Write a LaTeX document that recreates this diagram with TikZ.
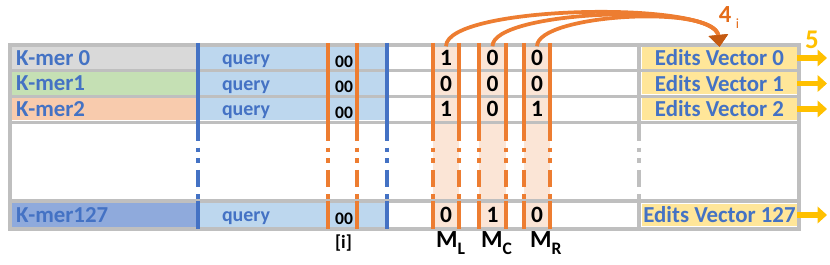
\documentclass[tikz,border=0pt]{standalone}
\usepackage{fontspec}
\setmainfont{Carlito}
\usetikzlibrary{arrows.meta}

\definecolor{kblue}{HTML}{4472C4}
\definecolor{kgray}{HTML}{D9D9D9}
\definecolor{kgreen}{HTML}{C5E0B4}
\definecolor{ksalmon}{HTML}{F8CBAD}
\definecolor{kdark}{HTML}{8FAADC}
\definecolor{qblue}{HTML}{BDD7EE}
\definecolor{eyellow}{HTML}{FFE699}
\definecolor{mshade}{HTML}{FBE5D6}
\definecolor{morange}{HTML}{ED7D31}
\definecolor{steporange}{HTML}{E46C1A}
\definecolor{headorange}{HTML}{C55A11}
\definecolor{gridgray}{HTML}{BFBFBF}
\definecolor{outyellow}{HTML}{FFC000}

\begin{document}
\begin{tikzpicture}[
    x=0.3mm, y=-0.3mm,
    line cap=butt,
    vline/.style={line width=2.6pt},
    gapline/.style={dash pattern=on 15pt off 6pt on 4pt off 5pt on 4pt off 6pt},
    kmerlbl/.style={anchor=west, inner sep=0pt, text=kblue, font=\bfseries\fontsize{19.5}{19.5}\selectfont},
    querylbl/.style={inner sep=0pt, text=kblue, font=\bfseries\fontsize{17}{17}\selectfont},
    idxlbl/.style={inner sep=0pt, font=\bfseries\fontsize{15}{15}\selectfont},
    bit/.style={minimum width=7mm, minimum height=6.9mm, inner sep=0pt, font=\bfseries\fontsize{20}{20}\selectfont},
    evbox/.style={fill=eyellow, minimum width=46.5mm, minimum height=6.6mm, inner sep=0pt, text=kblue, font=\bfseries\fontsize{19.5}{19.5}\selectfont},
    arc/.style={morange, line width=3.2pt, -{Triangle[length=10pt, width=16pt, color=headorange, fill=headorange]}},
    outarrow/.style={outyellow, line width=4.5pt, -{Triangle[length=8pt, width=14pt]}}
]
\useasboundingbox (0,0) rectangle (830,265);

% Tabella
\fill[white] (10,45) rectangle (799,229);
\foreach \ya/\yb/\col in {47/69/kgray, 72/95/kgreen, 98/120/ksalmon, 203/227/kdark}{
    \fill[\col] (12,\ya) rectangle (197,\yb);
    \fill[qblue] (199,\ya) rectangle (387,\yb);
}

% Colonne M
\foreach \xa/\xb in {433/459, 479/506, 524/550}
    \fill[mshade] (\xa,45) rectangle (\xb,229);

% Righe
\foreach \y in {70.5, 96.5, 122.5, 201}
    \draw[gridgray, line width=2.6pt] (10,\y) -- (799,\y);
\draw[gridgray, line width=3.4pt] (10,45) rectangle (799,229);

% Linee verticali
\foreach \x/\col in {198/kblue, 387/kblue, 328/morange, 357/morange,
    433/morange, 459/morange, 479/morange, 506/morange, 524/morange, 550/morange, 639/gridgray}{
    \draw[\col, vline] (\x,43) -- (\x,123);
    \draw[\col, vline, gapline] (\x,123) -- (\x,201);
    \draw[\col, vline] (\x,201) -- (\x,229);
}

% Righe della tabella
\foreach \r/\y/\lab/\a/\b/\c in {
    0/58/K-mer 0/1/0/0,
    1/83.5/K-mer1/0/0/0,
    2/109/K-mer2/1/0/1,
    127/215/K-mer127/0/1/0
}{
    \node[kmerlbl] (kmer\r) at (16,\y) {\lab};
    \node[querylbl] (query\r) at (246,\y+3.5) {query};
    \node[idxlbl] (idx\r) at (344,\y+3.5) {00};
    \node[bit] (bL\r) at (446,\y) {\a};
    \node[bit] (bC\r) at (492.5,\y) {\b};
    \node[bit] (bR\r) at (537,\y) {\c};
    \node[evbox] (ev\r) at (719.5,\y) {Edits Vector \r};
    \coordinate (out\r) at (827,\y);
    \draw[outarrow] (ev\r.east) -- (out\r);
}

% Etichette
\node[idxlbl, font=\bfseries\fontsize{16}{16}\selectfont] (idx) at (343.5,243) {[i]};
\foreach \n/\x/\s in {mL/436/L, mC/481/C, mR/530/R}
    \node[anchor=west, inner sep=0pt, font=\bfseries\fontsize{21}{21}\selectfont] (\n) at (\x,243)
        {M\raisebox{-0.55ex}{\fontsize{15}{15}\selectfont\s}};
\node[inner sep=0pt, text=steporange, font=\bfseries\fontsize{21}{21}\selectfont] (four) at (729,18)
    {4\raisebox{-0.5ex}{\fontsize{12}{12}\selectfont\mdseries\,\,i}};
\node[inner sep=0pt, text=outyellow, font=\bfseries\fontsize{23}{23}\selectfont] (five) at (812,40) {5};

% Archi
\draw[arc] (bL0.north) .. controls (446,5) and (715,0) .. (ev0.north);
\draw[arc] (bC0.north) .. controls (492,10) and (715,2) .. (ev0.north);
\draw[arc] (bR0.north) .. controls (537,14) and (715,4) .. (ev0.north);

\end{tikzpicture}
\end{document}
